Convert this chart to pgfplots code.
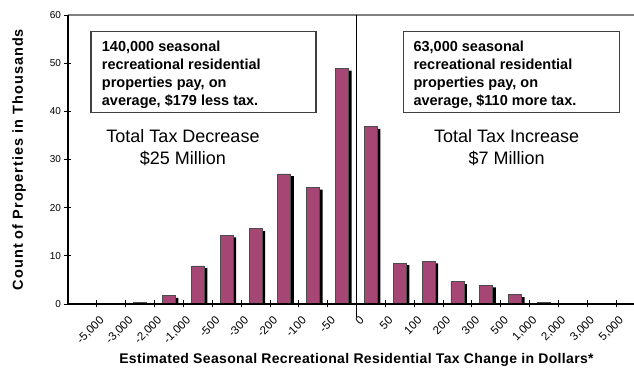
\documentclass[border=0pt]{standalone}
\usepackage{pgfplots}
\pgfplotsset{compat=1.18}
\usepackage{fontspec}
\setmainfont{Liberation Sans}
\newfontfamily\ylfont[LetterSpace=7]{Liberation Sans}
\newfontfamily\xlfont[LetterSpace=2.5]{Liberation Sans}
\definecolor{barcol}{RGB}{166,70,117}
\definecolor{topgray}{RGB}{128,128,128}
\begin{document}
\begin{tikzpicture}
\begin{axis}[
  scale only axis,
  width=577pt, height=289pt,
  xmin=0, xmax=20, ymin=0, ymax=60,
  clip=false,
  axis line style={draw=none},
  xtick pos=lower, ytick pos=left,
  tick align=center,
  major tick length=7pt,
  tick style={black, line width=0.9pt},
  xtick={1,...,19},
  xticklabels={{-5,000},{-3,000},{-2,000},{-1,000},{-500},{-300},{-200},{-100},{-50},{0},{50},{100},{200},{300},{500},{1,000},{2,000},{3,000},{5,000}},
  ytick={0,10,...,60},
  /pgf/number format/assume math mode=true,
  yticklabel style={font=\fontsize{10}{12}\selectfont},
  xticklabel style={font=\fontsize{11.5}{13}\selectfont, xshift=5.5pt, yshift=-11pt, rotate=45, anchor=east, inner sep=0pt},
  xlabel={\xlfont\bfseries Estimated Seasonal Recreational Residential Tax Change in Dollars*},
  ylabel={\ylfont\bfseries Count of Properties in Thousands},
  every axis x label/.append style={font=\fontsize{14}{16}\selectfont, at={(axis description cs:0.5,-0.194)}, anchor=center},
  every axis y label/.append style={font=\fontsize{14.5}{16}\selectfont, at={(axis description cs:-0.0849,0.5)}, anchor=center},
]
% shadows
\addplot[ybar, bar width=13pt, bar shift=3pt, fill=black, draw=none] coordinates {
 (1.5,0.05) (2.5,0.05) (3.5,1.25) (4.5,7.45) (5.5,13.85) (6.5,15.15) (7.5,26.55) (8.5,23.75)
 (9.5,48.45) (10.5,36.35) (11.5,8.05) (12.5,8.45) (13.5,4.15) (14.5,3.45) (15.5,1.45) (16.5,0.05)};
% bars
\addplot[ybar, bar width=13pt, bar shift=0pt, fill=barcol, draw=black!70, line width=0.8pt] coordinates {
 (1.5,0.15) (2.5,0.35) (3.5,1.7) (4.5,7.9) (5.5,14.3) (6.5,15.6) (7.5,27.0) (8.5,24.2)
 (9.5,48.9) (10.5,36.8) (11.5,8.5) (12.5,8.9) (13.5,4.6) (14.5,3.9) (15.5,1.9) (16.5,0.35)};
% axis lines
\draw[topgray, line width=1.2pt] (axis cs:0,60) -- (axis cs:20,60);
\draw[black, line width=1.2pt] (axis cs:0,0) -- (axis cs:0,60);
\draw[black, line width=1.2pt] (axis cs:0,0) -- (axis cs:20,0);
\draw[black, line width=1.3pt] (axis cs:10,60) -- (axis cs:10,-2.7);
% boxes
\draw[black!75, line width=1.2pt] (axis cs:0.797,56.53) rectangle (axis cs:8.596,39.8);
\draw[black!75, line width=1.2pt] (axis cs:11.62,56.53) rectangle (axis cs:19.11,39.8);
\node[anchor=north west, inner sep=0pt, align=left, font=\fontsize{14.5}{17.8}\selectfont\bfseries]
  at (axis cs:1.168,54.6) {140,000 seasonal\\recreational residential\\properties pay, on\\average, \$179 less tax.};
\node[anchor=north west, inner sep=0pt, align=left, font=\fontsize{14.5}{17.8}\selectfont\bfseries]
  at (axis cs:11.97,54.6) {63,000 seasonal\\recreational residential\\properties pay, on\\average, \$110 more tax.};
\node[align=center, font=\fontsize{18}{21.6}\selectfont] at (axis cs:3.986,32.49) {Total Tax Decrease\\\$25 Million};
\node[align=center, font=\fontsize{18}{21.6}\selectfont] at (axis cs:15.206,32.49) {Total Tax Increase\\\$7 Million};
\end{axis}
\pgfresetboundingbox
\path[use as bounding box] (-68pt,-67pt) rectangle (566pt,304pt);
\end{tikzpicture}
\end{document}
